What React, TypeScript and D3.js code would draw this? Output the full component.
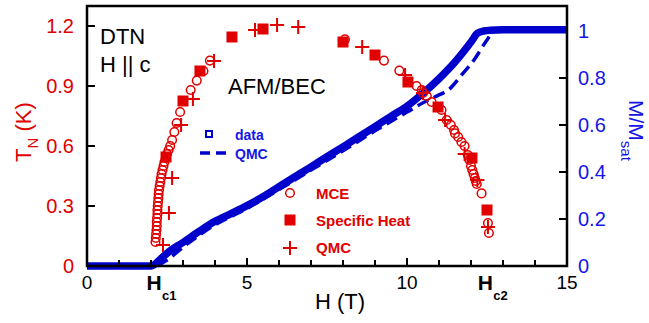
import * as d3 from "d3"

// MCE phase boundary (H in T, T_N in K)
const mceH = [2.14, 2.15, 2.16, 2.17, 2.18, 2.18, 2.19, 2.2, 2.2, 2.21, 2.22, 2.23, 2.24, 2.25, 2.27, 2.29, 2.31, 2.33, 2.36, 2.39, 2.42, 2.46, 2.5, 2.55, 2.6, 2.66, 2.73, 2.8, 2.91, 3.24, 3.43, 3.64, 3.84,
  8.06, 9.28, 9.76, 10.3, 10.46, 10.5, 10.62, 10.77, 11.08, 11.24, 11.37, 11.47, 11.5, 11.6, 11.7, 11.8, 11.9, 11.95, 12.0, 12.04, 12.08, 12.12, 12.15, 12.18, 12.33, 12.53, 12.56]
const mceT = [0.12, 0.14, 0.16, 0.18, 0.2, 0.22, 0.24, 0.26, 0.28, 0.3, 0.32, 0.34, 0.36, 0.38, 0.4, 0.42, 0.44, 0.46, 0.48, 0.5, 0.52, 0.54, 0.56, 0.58, 0.6, 0.63, 0.67, 0.715, 0.77, 0.88, 0.927, 0.975, 1.027,
  1.133, 1.027, 0.977, 0.9, 0.88, 0.865, 0.85, 0.82, 0.78, 0.73, 0.705, 0.68, 0.663, 0.645, 0.62, 0.6, 0.555, 0.53, 0.5, 0.48, 0.46, 0.44, 0.425, 0.41, 0.363, 0.215, 0.165]

// specific heat
const shH = [2.47, 3.0, 3.53, 4.53, 5.5, 8.0, 9.0, 10.03, 10.97, 12.03, 12.5]
const shT = [0.545, 0.825, 0.975, 1.145, 1.185, 1.12, 1.055, 0.92, 0.795, 0.54, 0.28]

// QMC transition temperatures
const qmcH = [2.375, 2.56, 2.66, 2.94, 3.31, 3.97, 5.25, 5.94, 6.6, 8.6, 9.94, 10.5, 11.19, 11.8, 12.2, 12.53]
const qmcT = [0.105, 0.265, 0.44, 0.705, 0.835, 1.025, 1.18, 1.205, 1.195, 1.095, 0.955, 0.865, 0.73, 0.56, 0.43, 0.195]

// magnetization data
const magH = [0, 2.0, 2.1, 2.3, 2.6, 3.0, 3.5, 4.0, 4.5, 5.0, 5.5, 6.0, 6.5, 7.0, 7.5, 8.0, 8.5, 9.0, 9.5, 10.0, 10.5, 11.0, 11.5, 12.0, 12.2, 12.4, 12.6, 13, 15]
const magM = [0, 0, 0.005, 0.03, 0.065, 0.1, 0.147, 0.19, 0.223, 0.257, 0.295, 0.338, 0.38, 0.422, 0.465, 0.507, 0.55, 0.593, 0.637, 0.68, 0.735, 0.797, 0.868, 0.953, 0.99, 1.0, 1.003, 1.005, 1.005]

// QMC magnetization
const mqH = [2.2, 2.5, 3.0, 4.0, 5.0, 6.0, 7.0, 8.0, 9.0, 10.0, 10.5, 11.0, 11.3, 11.7, 12.1, 12.5, 12.72, 15]
const mqM = [0, 0.025, 0.08, 0.175, 0.245, 0.325, 0.408, 0.49, 0.575, 0.655, 0.695, 0.728, 0.75, 0.812, 0.878, 0.962, 1.0, 1.0]

const xTicks = [0, 5, 10, 15]
const xMinor = d3.range(1, 15)
const leftTicks = [0, 0.3, 0.6, 0.9, 1.2]
const rightTicks = [0, 0.2, 0.4, 0.6, 0.8, 1]

const RED = "#e00000"
const BLUE = "#0000cc"
const BLUE_TXT = "#1515e6"
const FONT = "Liberation Sans, Arial, sans-serif"

export default function App() {
  const W = 649
  const H = 323
  const x = d3.scaleLinear().domain([0, 15]).range([87, 567])
  const yL = d3.scaleLinear().domain([0, 1.2]).range([266, 26])
  const yR = d3.scaleLinear().domain([0, 1]).range([266, 31])
  const top = 6

  const magLine = d3.line<number>().x((d, i) => x(magH[i])).y((d) => yR(d)).curve(d3.curveMonotoneX)
  const qmcLine = d3.line<number>().x((d, i) => x(mqH[i])).y((d) => yR(d)).curve(d3.curveMonotoneX)

  const cross = (cx: number, cy: number, s = 7) =>
    `M${cx - s},${cy}H${cx + s}M${cx},${cy - s}V${cy + s}`

  return (
    <svg width={W} height={H} style={{ position: "absolute", left: 0, top: 0 }} fontFamily={FONT}>
      <rect width={W} height={H} fill="white" />

      {/* magnetization */}
      <path d={magLine(magM) || ""} fill="none" stroke={BLUE} strokeWidth={7.5} strokeLinejoin="round" />
      <path d={qmcLine(mqM) || ""} fill="none" stroke={BLUE} strokeWidth={3.5} strokeDasharray="12,6" />

      {/* phase boundary */}
      {mceH.map((h, i) => (
        <circle key={"m" + i} cx={x(h)} cy={yL(mceT[i])} r={4.3} fill="none" stroke={RED} strokeWidth={1.5} />
      ))}
      {shH.map((h, i) => (
        <rect key={"s" + i} x={x(h) - 5.5} y={yL(shT[i]) - 5.5} width={11} height={11} fill={RED} />
      ))}
      {qmcH.map((h, i) => (
        <path key={"q" + i} d={cross(x(h), yL(qmcT[i]))} stroke={RED} strokeWidth={2} fill="none" />
      ))}

      {/* frame */}
      <rect x={x(0)} y={top} width={x(15) - x(0)} height={266 - top} fill="none" stroke="black" strokeWidth={2.5} />

      {/* x ticks */}
      {xMinor.map((t) => (
        <line key={"xm" + t} x1={x(t)} x2={x(t)} y1={266} y2={t % 5 === 0 ? 258 : 260} stroke="black" strokeWidth={2} />
      ))}
      {xTicks.map((t) => (
        <text key={"xt" + t} x={x(t)} y={289} textAnchor="middle" fontSize={19}>{t}</text>
      ))}
      <text x={x(2.1)} y={290} textAnchor="middle" fontSize={21} fontWeight="bold">H</text>
      <text x={x(2.1) + 15} y={300} textAnchor="middle" fontSize={13} fontWeight="bold">c1</text>
      <text x={x(12.45)} y={290} textAnchor="middle" fontSize={21} fontWeight="bold">H</text>
      <text x={x(12.45) + 15} y={300} textAnchor="middle" fontSize={13} fontWeight="bold">c2</text>
      <text x={340} y={309} textAnchor="middle" fontSize={22}>H (T)</text>

      {/* left axis */}
      {leftTicks.map((t) => (
        <g key={"l" + t}>
          <line x1={x(0)} x2={x(0) + 8} y1={yL(t)} y2={yL(t)} stroke="black" strokeWidth={2} />
          <text x={74} y={yL(t)} dy="0.36em" textAnchor="end" fontSize={20} fill={RED}>{t}</text>
        </g>
      ))}
      <text transform="translate(31,132) rotate(-90)" textAnchor="middle" fontSize={22} fill={RED}>
        T<tspan fontSize={15} dy={7}>N</tspan><tspan dy={-7}> (K)</tspan>
      </text>

      {/* right axis */}
      {rightTicks.map((t) => (
        <g key={"r" + t}>
          {t > 0 && t < 1 && <line x1={x(15)} x2={x(15) - 8} y1={yR(t)} y2={yR(t)} stroke="black" strokeWidth={2} />}
          <text x={578} y={yR(t)} dy="0.36em" fontSize={20} fill={BLUE_TXT}>{t}</text>
        </g>
      ))}
      <text transform="translate(629,100) rotate(90)" fontSize={21} fill={BLUE_TXT}>
        M/M<tspan fontSize={15} dy={8}>sat</tspan>
      </text>

      {/* annotations */}
      <text x={100} y={44} fontSize={22}>DTN</text>
      <text x={100} y={72} fontSize={22}>H || c</text>
      <text x={228} y={94} fontSize={22}>AFM/BEC</text>

      {/* blue legend */}
      <rect x={206} y={131} width={6} height={6} fill="none" stroke={BLUE} strokeWidth={2} />
      <text x={235} y={140} fontSize={14} fontWeight="bold" fill={BLUE_TXT}>data</text>
      <line x1={200} x2={232} y1={153} y2={153} stroke={BLUE} strokeWidth={3.5} strokeDasharray="10,6" />
      <text x={235} y={159} fontSize={14} fontWeight="bold" fill={BLUE_TXT}>QMC</text>

      {/* red legend */}
      <circle cx={290} cy={193} r={4.3} fill="none" stroke={RED} strokeWidth={1.5} />
      <text x={316} y={199} fontSize={15} fontWeight="bold" fill={RED}>MCE</text>
      <rect x={284.5} y={214.5} width={11} height={11} fill={RED} />
      <text x={316} y={226} fontSize={15} fontWeight="bold" fill={RED}>Specific Heat</text>
      <path d={cross(290, 248)} stroke={RED} strokeWidth={2} fill="none" />
      <text x={316} y={253} fontSize={15} fontWeight="bold" fill={RED}>QMC</text>
    </svg>
  )
}
